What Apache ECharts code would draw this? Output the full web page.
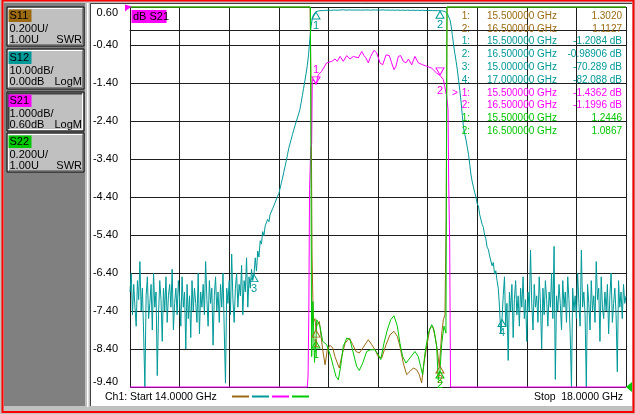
<!DOCTYPE html>
<html>
<head>
<meta charset="utf-8">
<title>Filter sweep S-parameters</title>
<script src="https://cdn.jsdelivr.net/npm/echarts@6/dist/echarts.min.js"></script>
<style>
  html, body { margin: 0; padding: 0; background: #c0c0c0; }
  #chart { width: 635px; height: 414px; }
</style>
</head>
<body>
<div id="chart"></div>
<script>
// sweep
var sweepStart = 14.0;
var sweepStop = 18.0;
var sweepStep = 0.01;

// S12, dB, one value per sweep point (14.00 .. 18.00 GHz)
var s12Db = [
  -75,-70,-81,-73,-79,-84,-72,-77,-67,-80,
  -74,-86,-100,-76,-71,-82,-78,-73,-85,-70,
  -79,-75,-97,-81,-72,-77,-88,-74,-80,-71,
  -83,-76,-73,-79,-69,-85,-78,-74,-81,-72,
  -77,-84,-71,-79,-75,-90,-73,-82,-76,-87,
  -72,-80,-74,-78,-83,-70,-86,-75,-79,-73,
  -81,-67,-77,-84,-72,-78,-74,-89,-76,-71,
  -80,-75,-83,-73,-79,-70,-85,-99,-74,-78,
  -72,-81,-65,-77,-83,-74,-70,-79,-73,-76,
  -68,-81,-72,-75,-66,-79,-71,-74,-69,-72,
  -70.3,-66.0,-69.5,-64.2,-65.8,-61.5,-62.4,-59.1,-60.2,-57.6,
  -58.0,-55.9,-56.5,-54.6,-54.9,-53.1,-52.8,-51.5,-51.0,-49.8,
  -49.1,-47.8,-46.4,-45.0,-43.5,-42.0,-40.5,-38.9,-37.2,-36.0,
  -34.8,-33.6,-32.4,-31.3,-30.2,-29.2,-28.1,-27.0,-25.2,-23.3,
  -21.4,-19.5,-17.5,-15.4,-12.5,-8.5,-5.2,-3.0,-2.0,-1.5,
  -1.21,
  -1.12,-1.05,-0.98,-0.94,-0.92,-0.95,-0.90,-0.87,-0.89,-0.86,
  -0.84,-0.88,-0.85,-0.82,-0.86,-0.83,-0.80,-0.84,-0.81,-0.79,
  -0.83,-0.72,-0.80,-0.84,-0.81,-0.78,-0.82,-0.79,-0.83,-0.80,
  -0.77,-0.81,-0.84,-0.80,-0.78,-0.82,-0.76,-0.80,-0.83,-0.79,
  -0.82,-0.78,-0.81,-0.85,-0.80,-0.77,-0.82,-0.79,-0.84,-0.81,
  -0.78,-0.83,-0.80,-0.74,-0.82,-0.85,-0.81,-0.79,-0.83,-0.86,
  -0.82,-0.80,-0.84,-0.87,-0.83,-0.81,-0.85,-0.88,-0.84,-0.82,
  -0.86,-0.89,-0.85,-0.83,-0.87,-0.90,-0.86,-0.84,-0.88,-0.91,
  -0.87,-0.85,-0.89,-0.92,-0.88,-0.86,-0.90,-0.93,-0.89,-0.91,
  -0.94,-0.90,-0.92,-0.95,-0.93,-0.96,-0.94,-0.97,-0.98,-0.99,
  -1.02,-1.05,-1.10,-1.18,
  -1.3,-1.8,-2.6,-3.3,-5.0,-7.5,-10.0,-12.3,-14.3,-16.6,
  -19.3,-22.0,-25.0,-28.5,-31.8,-33.5,-35.0,-36.9,-38.8,-41.5,
  -44.2,-46.0,-47.4,-48.9,-50.0,-51.8,-52.4,-54.6,-55.1,-57.2,
  -58.0,-60.1,-61.0,-63.2,-63.8,-65.5,-66.0,-68.1,-67.2,-70.3,
  -69.4,-72.0,
  -74,-79,-86,-82.1,-76,-71,-84,-78,-93,-75,
  -80,-73,-87,-77,-72,-81,-76,-84,-74,-79,
  -71,-82,-77,-88,-75,-80,-64,-78,-85,-73,
  -79,-76,-83,-71,-78,-90,-74,-81,-72,-77,
  -84,-75,-79,-70,-82,-63,-98,-76,-80,-73,
  -78,-85,-72,-79,-75,-83,-71,-77,-86,-100,
  -74,-80,-76,-82,-70,-78,-84,-64,-79,-75,
  -81,-100,-73,-78,-85,-72,-80,-76,-83,-67,
  -77,-74,-88,-71,-79,-82,-75,-80,-73,-86,
  -76,-70,-83,-78,-74,-81,-96,-72,-79,-75,
  -82,-73,-78,-76
];

// S21, dB
var s21Freq = [14.00, 15.430, 15.436, 15.442, 15.448, 15.458, 15.465, 15.470, 15.478, 15.490,
  15.500, 15.519, 15.546, 15.586, 15.627, 15.653, 15.672, 15.694, 15.720, 15.748,
  15.774, 15.801, 15.841, 15.869, 15.887, 15.903, 15.922, 15.941, 15.968, 15.990,
  16.016, 16.038, 16.065, 16.091, 16.110, 16.129, 16.145, 16.164, 16.183, 16.204,
  16.226, 16.245, 16.272, 16.298, 16.325, 16.360, 16.393, 16.433, 16.473, 16.500,
  16.527, 16.554, 16.565, 16.570, 16.578, 16.585, 18.00];
var s21Db = [-76.0, -62.0, -9.1, -7.5, -4.2, -3.1, -3.0, -1.31, -1.31, -1.36,
  -1.44, -1.18, -1.09, -0.87, -0.83, -0.77, -0.83, -0.70, -0.83, -0.68,
  -0.77, -0.70, -0.74, -0.57, -0.68, -0.74, -0.87, -0.70, -0.54, -0.61,
  -0.87, -0.92, -0.66, -0.68, -0.87, -1.05, -0.96, -0.70, -0.68, -0.83,
  -0.87, -0.77, -0.92, -0.70, -0.87, -0.92, -0.96, -1.01, -1.14, -1.20,
  -1.31, -1.75, -2.10, -4.0, -5.6, -62.0, -78.0];

// S11, SWR
var s11Freq = [14.00, 15.452, 15.460, 15.468, 15.478, 15.492, 15.500, 15.510, 15.527, 15.538,
  15.554, 15.573, 15.591, 15.613, 15.635, 15.653, 15.672, 15.688, 15.707, 15.734,
  15.769, 15.796, 15.823, 15.849, 15.877, 15.922, 15.949, 15.976, 16.002, 16.030,
  16.065, 16.097, 16.129, 16.156, 16.177, 16.204, 16.231, 16.258, 16.285, 16.312,
  16.333, 16.352, 16.371, 16.393, 16.419, 16.441, 16.460, 16.478, 16.494, 16.500,
  16.514, 16.527, 16.540, 16.550, 16.557, 18.00];
var s11Swr = [28, 28, 2.6, 1.70, 1.34, 1.36, 1.30, 1.33, 1.345, 1.284,
  1.196, 1.117, 1.196, 1.22, 1.205, 1.16, 1.126, 1.10, 1.16, 1.23,
  1.258, 1.223, 1.187, 1.179, 1.205, 1.249, 1.223, 1.196, 1.16, 1.153,
  1.223, 1.275, 1.293, 1.266, 1.214, 1.126, 1.065, 1.082, 1.10, 1.091,
  1.065, 1.021, 1.126, 1.214, 1.31, 1.32, 1.266, 1.196, 1.108, 1.113,
  1.284, 1.354, 1.38, 1.9, 28, 28];

// S22, SWR
var s22Freq = [14.00, 15.455, 15.465, 15.475, 15.488, 15.500, 15.506, 15.519, 15.532, 15.554,
  15.586, 15.619, 15.640, 15.661, 15.680, 15.699, 15.720, 15.748, 15.774, 15.801,
  15.828, 15.849, 15.877, 15.909, 15.941, 15.976, 16.002, 16.022, 16.048, 16.075,
  16.102, 16.129, 16.156, 16.177, 16.199, 16.226, 16.258, 16.298, 16.325, 16.344,
  16.360, 16.379, 16.406, 16.433, 16.452, 16.473, 16.486, 16.500, 16.514, 16.532,
  16.548, 16.556, 18.00];
var s22Swr = [28, 28, 1.16, 1.45, 1.13, 1.25, 1.354, 1.363, 1.32, 1.24,
  1.223, 1.16, 1.108, 1.056, 1.038, 1.108, 1.214, 1.258, 1.249, 1.179,
  1.108, 1.087, 1.126, 1.187, 1.196, 1.196, 1.17, 1.144, 1.23, 1.30,
  1.354, 1.375, 1.32, 1.23, 1.16, 1.126, 1.153, 1.187, 1.16, 1.108,
  1.065, 1.179, 1.284, 1.328, 1.30, 1.214, 1.038, 1.087, 1.23, 1.32,
  1.284, 28, 28];

// markers (from the marker readout)
var markerFreq = [15.5, 16.5];
var s11Mkr = [1.3020, 1.1127];
var s12MkrFreq = [15.5, 16.5, 15.0, 17.0];
var s12Mkr = [-1.2084, -0.98906, -70.289, -82.088];
var s21Mkr = [-1.4362, -1.1996];
var s22Mkr = [1.2446, 1.0867];

// channel scales: ref value at ref line, per division
var s21Ref = 0.60, s21Div = 1.0;   // ref at top
var s12Ref = 0.0, s12Div = 10.0;   // ref at top
var swrRef = 1.00, swrDiv = 0.2;   // ref at bottom
var nDiv = 10;

var BROWN = '#9b6a12', TEAL = '#009999', MAGENTA = '#ff00ff', GREEN = '#00c800';
var FONT = 'Liberation Sans, Arial, sans-serif';

function clamp(v, lo, hi) { return Math.max(lo, Math.min(hi, v)); }
function pairs(fr, vals, lo, hi) {
  return fr.map(function (f, i) { return [f, clamp(vals[i], lo, hi)]; });
}

var s21Min = s21Ref - nDiv * s21Div, s21Max = s21Ref;
var s12Min = s12Ref - nDiv * s12Div, s12Max = s12Ref;
var swrMin = swrRef, swrMax = swrRef + nDiv * swrDiv;

var sweepFreq = s12Db.map(function (v, i) { return Math.round((sweepStart + i * sweepStep) * 100) / 100; });

// up: triangle under the point; labelBelow per marker
function markers(fr, vals, color, lo, hi, up, labelBelow) {
  return {
    silent: true,
    animation: false,
    data: fr.map(function (f, i) {
      var below = labelBelow ? labelBelow[i] : up;
      return {
        coord: [f, clamp(vals[i], lo, hi)],
        symbol: 'triangle',
        symbolSize: [8, 7],
        symbolRotate: up ? 0 : 180,
        symbolOffset: [0, up ? 4 : -4],
        itemStyle: { color: 'rgba(0,0,0,0)', borderColor: color, borderWidth: 1 },
        label: {
          show: true, formatter: String(i + 1), color: color,
          fontSize: 11, fontFamily: FONT,
          position: below ? 'bottom' : 'top', distance: below && !up ? 10 : 1
        }
      };
    })
  };
}

function line(name, data, color, yIdx, mp) {
  return {
    name: name, type: 'line', xAxisIndex: 0, yAxisIndex: yIdx,
    data: data, showSymbol: false, symbol: 'none', clip: false,
    lineStyle: { color: color, width: 1 }, itemStyle: { color: color },
    animation: false, markPoint: mp
  };
}

// ---- window chrome ----
var g = [];
g.push({ type: 'rect', z: -10, shape: { x: 4, y: 3, width: 81, height: 403 }, style: { fill: '#808080' } });
g.push({ type: 'rect', z: -10, shape: { x: 87, y: 3, width: 1.5, height: 404 }, style: { fill: '#ffffff' } });
g.push({ type: 'rect', z: -10, shape: { x: 91, y: 4, width: 541, height: 402 }, style: { fill: '#ffffff' } });
g.push({ type: 'polyline', z: -9, shape: { points: [[90.5, 406], [90.5, 3.5], [632, 3.5]] }, style: { stroke: '#404040', lineWidth: 1, fill: null } });
g.push({ type: 'rect', z: 50, shape: { x: 2.5, y: 0.5, width: 631, height: 411.5 }, style: { fill: null, stroke: '#ff0000', lineWidth: 2 } });

function button(y0, h, color, tag, l2, l3a, l3b, sunken) {
  var x0 = 7, w = 77;
  g.push({ type: 'rect', z: -8, shape: { x: x0, y: y0, width: w, height: h }, style: { fill: '#c0c0c0', stroke: '#000', lineWidth: 1 } });
  var hi = sunken ? '#404040' : '#ffffff', lo = sunken ? '#ffffff' : '#808080';
  g.push({ type: 'polyline', z: -7, shape: { points: [[x0 + 1.5, y0 + h - 1.5], [x0 + 1.5, y0 + 1.5], [x0 + w - 1.5, y0 + 1.5]] }, style: { stroke: hi, lineWidth: sunken ? 2 : 1, fill: null } });
  g.push({ type: 'polyline', z: -7, shape: { points: [[x0 + 1.5, y0 + h - 1.5], [x0 + w - 1.5, y0 + h - 1.5], [x0 + w - 1.5, y0 + 1.5]] }, style: { stroke: lo, lineWidth: 1, fill: null } });
  g.push({ type: 'rect', z: -6, shape: { x: 8.5, y: y0 + 2.5, width: 23, height: 12.5 }, style: { fill: color } });
  var t = { fontSize: 11, fontFamily: FONT, fill: '#000', verticalAlign: 'middle' };
  g.push({ type: 'text', z: -5, style: Object.assign({ text: tag, x: 9.5, y: y0 + 9 }, t) });
  g.push({ type: 'text', z: -5, style: Object.assign({ text: l2, x: 9.5, y: y0 + 21.5 }, t) });
  g.push({ type: 'text', z: -5, style: Object.assign({ text: l3a, x: 9.5, y: y0 + 33 }, t) });
  g.push({ type: 'text', z: -5, style: Object.assign({ text: l3b, x: 82, y: y0 + 33, align: 'right' }, t) });
}
button(7, 39, BROWN, 'S11', '0.200U/', '1.00U', 'SWR', false);
button(49, 40, TEAL, 'S12', '10.00dB/', '0.00dB', 'LogM', false);
button(92, 39, MAGENTA, 'S21', '1.000dB/', '0.60dB', 'LogM', true);
button(133, 39, GREEN, 'S22', '0.200U/', '1.00U', 'SWR', false);

// active trace label and reference markers
g.push({ type: 'rect', z: 20, shape: { x: 131.5, y: 10, width: 35, height: 13 }, style: { fill: MAGENTA } });
g.push({ type: 'text', z: 21, style: { text: 'dB S21', x: 133, y: 16.8, fontSize: 11, fontFamily: FONT, fill: '#000', verticalAlign: 'middle' } });
g.push({ type: 'polygon', z: 20, shape: { points: [[125, 4.5], [131.5, 6.5], [125, 11.5]] }, style: { fill: MAGENTA } });
g.push({ type: 'polygon', z: 20, shape: { points: [[626, 387], [632, 382], [632, 392]] }, style: { fill: GREEN } });

// status line
var st = { fontSize: 10.5, fontFamily: FONT, fill: '#000', verticalAlign: 'middle' };
g.push({ type: 'text', style: Object.assign({ text: 'Ch1: Start', x: 105, y: 397 }, st) });
g.push({ type: 'text', style: Object.assign({ text: sweepStart.toFixed(4) + ' GHz', x: 155, y: 397 }, st) });
g.push({ type: 'text', style: Object.assign({ text: 'Stop', x: 534, y: 397 }, st) });
g.push({ type: 'text', style: Object.assign({ text: sweepStop.toFixed(4) + ' GHz', x: 623, y: 397, align: 'right' }, st) });
[BROWN, TEAL, MAGENTA, GREEN].forEach(function (c, i) {
  var x = 232 + i * 20;
  g.push({ type: 'line', shape: { x1: x, y1: 396.5, x2: x + 17, y2: 396.5 }, style: { stroke: c, lineWidth: 2 } });
});

// marker readout table
var rows = [];
markerFreq.forEach(function (f, i) { rows.push({ c: BROWN, n: i + 1, f: f, v: s11Mkr[i], u: '' }); });
s12MkrFreq.forEach(function (f, i) { rows.push({ c: TEAL, n: i + 1, f: f, v: s12Mkr[i], u: ' dB' }); });
markerFreq.forEach(function (f, i) { rows.push({ c: MAGENTA, n: i + 1, f: f, v: s21Mkr[i], u: ' dB', act: i === 0 }); });
markerFreq.forEach(function (f, i) { rows.push({ c: GREEN, n: i + 1, f: f, v: s22Mkr[i], u: '' }); });
rows.forEach(function (r, i) {
  var y = 16 + i * 12.8;
  var s = { fontSize: 10, fontFamily: FONT, fill: r.c, verticalAlign: 'middle' };
  if (r.act) g.push({ type: 'text', z: 30, style: Object.assign({ text: '>', x: 452, y: y }, s) });
  g.push({ type: 'text', z: 30, style: Object.assign({ text: r.n + ':', x: 470, y: y, align: 'right' }, s) });
  g.push({ type: 'text', z: 30, style: Object.assign({ text: r.f.toFixed(6) + ' GHz', x: 487, y: y }, s) });
  g.push({ type: 'text', z: 30, style: Object.assign({ text: r.v.toPrecision(5) + r.u, x: 622, y: y, align: 'right' }, s) });
});

var gridLine = { show: true, lineStyle: { color: '#1e1e1e', width: 1 } };

var chart = echarts.init(document.getElementById('chart'), null, { renderer: 'canvas' });
chart.setOption({
  backgroundColor: '#c0c0c0',
  animation: false,
  grid: { left: 130, top: 7, right: 9, bottom: 27, show: false },
  xAxis: {
    type: 'value', min: sweepStart, max: sweepStop, interval: (sweepStop - sweepStart) / nDiv,
    axisLabel: { show: false }, axisTick: { show: false },
    axisLine: gridLine, splitLine: gridLine
  },
  yAxis: [
    {
      type: 'value', min: s21Min, max: s21Max, interval: s21Div,
      axisTick: { show: false }, axisLine: gridLine, splitLine: gridLine,
      axisLabel: {
        formatter: function (v) { return v.toFixed(2); },
        color: '#000', fontSize: 11, fontFamily: FONT, margin: 12,
        verticalAlignMinLabel: 'bottom', verticalAlignMaxLabel: 'top'
      }
    },
    { type: 'value', min: s12Min, max: s12Max, show: false },
    { type: 'value', min: swrMin, max: swrMax, show: false }
  ],
  graphic: { elements: g },
  series: [
    line('S11', pairs(s11Freq, s11Swr, swrMin, swrMax), BROWN, 2,
      markers(markerFreq, s11Mkr, BROWN, swrMin, swrMax, true)),
    line('S12', pairs(sweepFreq, s12Db, s12Min, s12Max), TEAL, 1,
      markers(s12MkrFreq, s12Mkr, TEAL, s12Min, s12Max, true)),
    line('S21', pairs(s21Freq, s21Db, s21Min, s21Max), MAGENTA, 0,
      markers(markerFreq, s21Mkr, MAGENTA, s21Min, s21Max, false, [false, true])),
    line('S22', pairs(s22Freq, s22Swr, swrMin, swrMax), GREEN, 2,
      markers(markerFreq, s22Mkr, GREEN, swrMin, swrMax, true))
  ]
});
</script>
</body>
</html>
